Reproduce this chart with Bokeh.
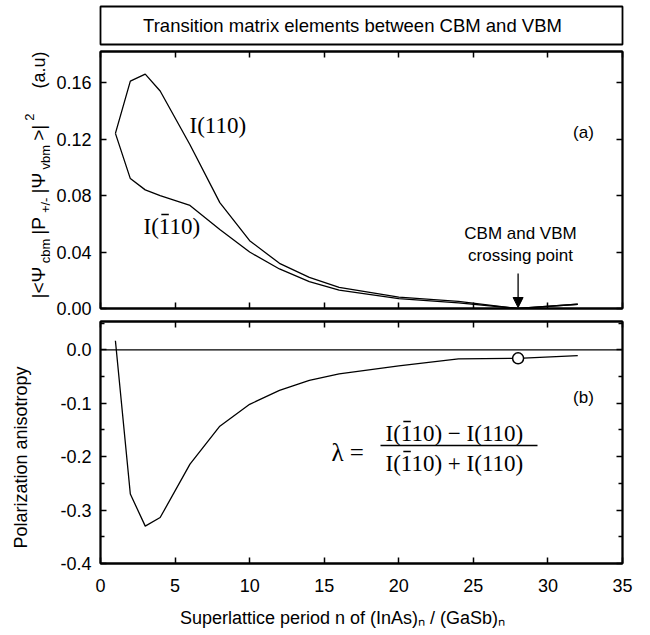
import math
from bokeh.plotting import figure
from bokeh.models import (Range1d, LinearAxis, FixedTicker, PrintfTickFormatter,
                          CustomJSTickFormatter, Span, Arrow, NormalHead)
from bokeh.core.properties import value
from bokeh.layouts import column, row
from bokeh.embed import file_html
from bokeh.resources import INLINE

# ---------------- data ----------------
n_a = [1, 2, 3, 4, 6, 8, 10, 12, 14, 16, 20, 24, 28, 32]
i_110 = [0.124, 0.161, 0.166, 0.154, 0.116, 0.075, 0.048, 0.032, 0.022, 0.015, 0.008, 0.005, 0.000, 0.003]
i_bar110 = [0.124, 0.092, 0.084, 0.080, 0.073, 0.056, 0.040, 0.028, 0.019, 0.013, 0.007, 0.004, 0.000, 0.003]
n_b = [1, 2, 3, 4, 6, 8, 10, 12, 14, 16, 20, 24, 28, 32]
anisotropy = [0.017, -0.270, -0.330, -0.314, -0.214, -0.143, -0.102, -0.076, -0.057, -0.045, -0.030, -0.017, -0.016, -0.011]
crossing_n = [28]
crossing_aniso = [-0.016]
x_ticks = [0, 5, 10, 15, 20, 25, 30, 35]
ya_ticks = [0.0, 0.04, 0.08, 0.12, 0.16]
yb_ticks = [-0.4, -0.3, -0.2, -0.1, 0.0]
yb_minor = [-0.35, -0.25, -0.15, -0.05, 0.05]

SANS = "Liberation Sans"
SERIF = "Liberation Serif"
EM = 23  # serif label size (px)

# ---------------- geometry (page px; the page has no margin) ----------------
PAGE_W = 645
LBL_W = 52
LEFT, RIGHT = 100, 622
XR = (0, 35)
T_H, T_TOP, T_BOT = 47, 6, 44
A_Y0, A_TOP, A_BOT, A_H, YA = 47, 51, 308, 270, (0.0, 0.182)
B_Y0, B_TOP, B_BOT, B_H, YB = 317, 321, 563, 283, (-0.4, 0.053)
XL_Y0, XL_H = 600, 34


def xd(px):
    return XR[0] + (px - LEFT) / (RIGHT - LEFT) * (XR[1] - XR[0])


def yad(py):
    return YA[0] + (A_BOT - py) / (A_BOT - A_TOP) * (YA[1] - YA[0])


def ybd(py):
    return YB[0] + (B_BOT - py) / (B_BOT - B_TOP) * (YB[1] - YB[0])


def txt(p, x, y, s, font=SANS, size=18, align="left", baseline="middle", angle=0.0):
    p.text(x=[x], y=[y], text=[s], angle=angle, text_font=value(font),
           text_font_size=value(f"{size}px"), text_align=value(align),
           text_baseline=value(baseline), text_color="black")


blank = CustomJSTickFormatter(code="return ''")


def style_axis(ax, labels=True, minor=False, fmt=None, standoff=9):
    ax.axis_line_width = 1.8
    ax.axis_line_color = "black"
    ax.major_tick_in = 6
    ax.major_tick_out = 0
    ax.major_tick_line_width = 1.5
    ax.minor_tick_in = 4 if minor else 0
    ax.minor_tick_out = 0
    ax.minor_tick_line_width = 1.3
    ax.major_label_text_font = SANS
    ax.major_label_text_color = "black"
    ax.major_label_text_font_size = "18px"
    ax.major_label_standoff = standoff
    if fmt is not None:
        ax.formatter = fmt
    if not labels:
        ax.formatter = blank
        ax.major_label_standoff = 0
    ax.axis_label = None


def pixel_fig(w, h, x0, x1, y_top, y_bot, borders):
    """Figure whose frame data units are page pixels (y grows downward)."""
    f = figure(width=w, height=h, x_range=Range1d(x0, x1), y_range=Range1d(y_bot, y_top),
               min_border=0, min_border_left=borders[0], min_border_right=borders[1],
               min_border_top=borders[2], min_border_bottom=borders[3],
               toolbar_location=None, tools="", output_backend="svg",
               x_axis_location=None, y_axis_location=None)
    f.grid.visible = False
    f.outline_line_color = None
    return f


def base_fig(h, yr, top, bottom):
    p = figure(width=PAGE_W - LBL_W, height=h, x_range=Range1d(*XR), y_range=Range1d(*yr),
               min_border_left=LEFT - LBL_W, min_border_right=PAGE_W - RIGHT,
               min_border_top=top, min_border_bottom=bottom,
               toolbar_location=None, tools="", output_backend="svg",
               x_axis_location=None, y_axis_location=None)
    p.grid.visible = False
    p.outline_line_color = "black"
    p.outline_line_width = 1.8
    return p


def overbar(p, x_left_px, y_px, yconv):
    """Bar over the digit '1' whose advance starts at x_left_px."""
    p.segment(x0=[xd(x_left_px + 2.5)], y0=[yconv(y_px)], x1=[xd(x_left_px + 0.5 * EM - 1.5)],
              y1=[yconv(y_px)], line_color="black", line_width=1.4)


# ---------------- title box ----------------
t = pixel_fig(PAGE_W, T_H, LEFT, RIGHT, T_TOP, T_BOT,
              (LEFT, PAGE_W - RIGHT, T_TOP, T_H - T_BOT))
t.outline_line_color = "black"
t.outline_line_width = 1.8
txt(t, 352, 25, "Transition matrix elements between CBM and VBM", size=18.5, align="center")

# ---------------- panel (a) ----------------
pa = base_fig(A_H, YA, A_TOP - A_Y0, A_Y0 + A_H - A_BOT)
xt = FixedTicker(ticks=x_ticks)
yta = FixedTicker(ticks=ya_ticks)
for loc in ("below", "above"):
    ax = LinearAxis(ticker=xt)
    style_axis(ax, labels=False)
    pa.add_layout(ax, loc)
axl = LinearAxis(ticker=yta)
style_axis(axl, labels=True, fmt=PrintfTickFormatter(format="%.2f"))
pa.add_layout(axl, "left")
axr = LinearAxis(ticker=yta)
style_axis(axr, labels=False)
pa.add_layout(axr, "right")

pa.line(n_a, i_110, line_color="black", line_width=1.3)
pa.line(n_a, i_bar110, line_color="black", line_width=1.3)

txt(pa, xd(189), yad(125), "I(110)", font=SERIF, size=EM)
x0, mid = 143, 226
txt(pa, xd(x0), yad(mid), "I(110)", font=SERIF, size=EM)
overbar(pa, x0 + 0.666 * EM, mid - 12, yad)

txt(pa, xd(583), yad(132), "(a)", size=17, align="center")
txt(pa, xd(520), yad(233), "CBM and VBM", size=17, align="center")
txt(pa, xd(520), yad(255), "crossing point", size=17, align="center")
pa.add_layout(Arrow(end=NormalHead(size=10, fill_color="black", line_color="black"),
                    x_start=crossing_n[0], y_start=yad(273),
                    x_end=crossing_n[0], y_end=yad(307), line_width=1.3))

# left strip with the rotated y label of (a)
la = pixel_fig(LBL_W, A_H, 0, LBL_W - 2, A_TOP, A_BOT,
               (0, 2, A_TOP - A_Y0, A_Y0 + A_H - A_BOT))
W = {'|': 0.26, '<': 0.584, '>': 0.584, 'Ψ': 0.80, 'P': 0.667, '+': 0.584,
     '/': 0.278, '-': 0.333, 'c': 0.5, 'b': 0.556, 'm': 0.833, 'v': 0.5, '2': 0.556}
pieces = [("|<Ψ", "main"), ("cbm", "sub"), ("|P", "main"), ("+/-", "sub"),
          ("|Ψ", "main"), ("vbm", "sub"), (">|", "main"), ("2", "sup")]
size = {"main": 19, "sub": 13, "sup": 13}
base_x = {"main": 38, "sub": 45, "sup": 29}
s = 298.0
for piece, role in pieces:
    txt(la, base_x[role], s, piece, size=size[role], baseline="alphabetic", angle=math.pi / 2)
    s -= sum(W[c] for c in piece) * size[role] + 4
txt(la, 38, 88, "(a.u)", size=18, baseline="alphabetic", angle=math.pi / 2)

# ---------------- panel (b) ----------------
pb = base_fig(B_H, YB, B_TOP - B_Y0, B_Y0 + B_H - B_BOT)
ytb = FixedTicker(ticks=yb_ticks, minor_ticks=yb_minor)
axb = LinearAxis(ticker=xt)
style_axis(axb, labels=True, standoff=15)
pb.add_layout(axb, "below")
axt = LinearAxis(ticker=xt)
style_axis(axt, labels=False)
pb.add_layout(axt, "above")
axl = LinearAxis(ticker=ytb)
style_axis(axl, labels=True, minor=True, fmt=PrintfTickFormatter(format="%.1f"))
pb.add_layout(axl, "left")
axr = LinearAxis(ticker=ytb)
style_axis(axr, labels=False, minor=True)
pb.add_layout(axr, "right")

pb.add_layout(Span(location=0, dimension="width", line_color="black", line_width=1.2))
pb.line(n_b, anisotropy, line_color="black", line_width=1.3)
pb.scatter(crossing_n, crossing_aniso, marker="circle", size=11,
           fill_color="white", line_color="black", line_width=1.5)

txt(pb, xd(583), ybd(397), "(b)", size=17, align="center")
txt(pb, xd(331), ybd(452), "λ =", font=SERIF, size=25)
x0 = 385
for piece, mid in [("I(110) \u2212 I(110)", 433), ("I(110) + I(110)", 463)]:
    txt(pb, xd(x0), ybd(mid), piece, font=SERIF, size=EM)
    overbar(pb, x0 + 0.666 * EM, mid - 12, ybd)
pb.segment(x0=[xd(380)], y0=[ybd(445)], x1=[xd(537)], y1=[ybd(445)],
           line_color="black", line_width=1.5)

lb = pixel_fig(LBL_W, B_H, 0, LBL_W - 2, B_TOP, B_BOT,
               (0, 2, B_TOP - B_Y0, B_Y0 + B_H - B_BOT))
txt(lb, 20, 457, "Polarization anisotropy", size=18, align="center", angle=math.pi / 2)

# ---------------- x label strip ----------------
xl = pixel_fig(PAGE_W, XL_H, LEFT, RIGHT, XL_Y0 + 2, XL_Y0 + XL_H - 2,
               (LEFT, PAGE_W - RIGHT, 2, 2))
txt(xl, 342, 617, "Superlattice period n of (InAs)\u2099 / (GaSb)\u2099", size=18, align="center")

layout = column(t, row(la, pa, spacing=0), row(lb, pb, spacing=0), xl, spacing=0)
open("out.html", "w").write(file_html(layout, INLINE))
